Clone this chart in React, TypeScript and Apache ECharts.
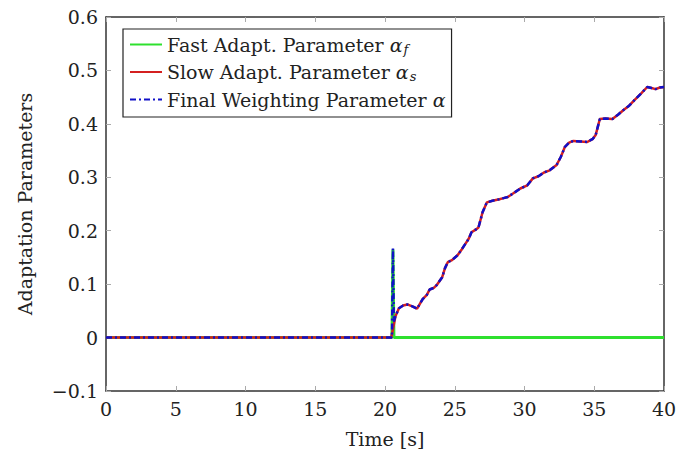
import React, { useEffect, useRef } from "react";
import * as echarts from "echarts";

// ---- data ----
const fastTimes = [0, 20.5, 20.57, 20.64, 40];
const fastValues = [0, 0, 0.165, 0, 0];

const slowTimes = [
  0, 20.45, 20.6, 20.75, 21.0, 21.3, 21.6, 22.0, 22.3, 22.7, 23.0, 23.2, 23.5, 23.7, 24.1, 24.3, 24.5,
  24.8, 25.2, 25.5, 25.7, 26.0, 26.2, 26.5, 26.7, 27.0, 27.3, 27.7, 28.2, 28.5, 28.8, 29.2, 29.7, 30.2,
  30.6, 31.0, 31.4, 31.8, 32.3, 32.6, 32.9, 33.2, 33.5, 34.0, 34.5, 34.9, 35.1, 35.4, 35.8, 36.3, 36.7,
  37.1, 37.5, 37.9, 38.4, 38.8, 39.1, 39.4, 39.7, 40,
];
const slowValues = [
  0, 0, 0.02, 0.04, 0.055, 0.06, 0.062, 0.058, 0.054, 0.072, 0.08, 0.09, 0.093, 0.098, 0.113, 0.13, 0.141,
  0.145, 0.154, 0.165, 0.173, 0.185, 0.197, 0.202, 0.206, 0.235, 0.253, 0.256, 0.259, 0.261, 0.263, 0.27,
  0.279, 0.285, 0.298, 0.302, 0.309, 0.313, 0.323, 0.338, 0.357, 0.365, 0.368, 0.367, 0.366, 0.372, 0.379,
  0.409, 0.41, 0.409, 0.417, 0.426, 0.434, 0.445, 0.458, 0.469, 0.467, 0.465, 0.468, 0.469,
];

// spike part of the final weighting parameter, then it follows the slow one
const finalSpikeTimes = [0, 20.5, 20.57, 20.63];
const finalSpikeValues = [0, 0, 0.167, 0.03];

const xTicks = { min: 0, max: 40, interval: 5 };
const yTicks = { min: -0.1, max: 0.6, interval: 0.1 };

const seriesNames = ["fast", "slow", "final"];
const legendLabels: Record<string, string> = {
  fast: "Fast Adapt. Parameter {i|α}{sub|f}",
  slow: "Slow Adapt. Parameter {i|α}{sub|s}",
  final: "Final Weighting Parameter {i|α}",
};

const FONT = "DejaVu Serif";

const zip = (a: number[], b: number[]) => a.map((t, i) => [t, b[i]]);

export default function App() {
  const ref = useRef<HTMLDivElement>(null);
  useEffect(() => {
    if (!ref.current) return;
    const chart = echarts.init(ref.current, undefined, { renderer: "svg" });
    const fmtY = (v: number) =>
      Math.abs(v) < 1e-9 ? "0" : (v < 0 ? "\u2212" : "") + Math.abs(v).toFixed(1);
    const finalData = zip(finalSpikeTimes, finalSpikeValues).concat(
      zip(slowTimes, slowValues).filter((p) => p[0] > 20.7)
    );
    const axisLine = { show: true, onZero: false, lineStyle: { color: "#333", width: 1.5 } };
    const axisTick = { show: true, inside: true, length: 5, lineStyle: { color: "#aaa" } };
    const label = { fontFamily: FONT, fontSize: 19, color: "#222" };
    chart.setOption({
      animation: false,
      backgroundColor: "#fff",
      textStyle: { fontFamily: FONT },
      grid: { left: 106, right: 27, top: 17, bottom: 62 },
      legend: {
        data: seriesNames,
        orient: "vertical",
        left: 123,
        top: 29,
        borderColor: "#222",
        borderWidth: 1.2,
        borderRadius: 0,
        backgroundColor: "#fff",
        padding: [6, 6, 8, 6],
        itemGap: 7,
        itemWidth: 32,
        itemHeight: 20,
        itemStyle: { opacity: 0 },
        formatter: (n: string) => legendLabels[n],
        textStyle: {
          fontFamily: FONT,
          fontSize: 19,
          color: "#222",
          rich: {
            i: { fontFamily: FONT, fontSize: 19, fontStyle: "italic", color: "#222" },
            sub: {
              fontFamily: FONT,
              fontSize: 13,
              fontStyle: "italic",
              color: "#222",
              padding: [9, 0, 0, 1],
            },
          },
        },
      },
      xAxis: [
        {
          type: "value",
          ...xTicks,
          axisLine,
          axisTick,
          axisLabel: { ...label, margin: 8 },
          splitLine: { show: false },
          name: "Time [s]",
          nameLocation: "middle",
          nameGap: 38,
          nameTextStyle: { ...label },
        },
        {
          type: "value",
          position: "top",
          ...xTicks,
          axisLine,
          axisTick,
          axisLabel: { show: false },
          splitLine: { show: false },
        },
      ],
      yAxis: [
        {
          type: "value",
          ...yTicks,
          axisLine,
          axisTick,
          axisLabel: { ...label, margin: 8, formatter: fmtY },
          splitLine: { show: false },
          name: "Adaptation Parameters",
          nameLocation: "middle",
          nameGap: 72,
          nameRotate: 90,
          nameTextStyle: { ...label },
        },
        {
          type: "value",
          position: "right",
          ...yTicks,
          axisLine,
          axisTick,
          axisLabel: { show: false },
          splitLine: { show: false },
        },
      ],
      series: [
        {
          name: "fast",
          type: "line",
          symbol: "none",
          data: zip(fastTimes, fastValues),
          lineStyle: { color: "#2ee02e", width: 3 },
          itemStyle: { color: "#2ee02e" },
        },
        {
          name: "slow",
          type: "line",
          symbol: "none",
          data: zip(slowTimes, slowValues),
          lineStyle: { color: "#d42020", width: 2.5 },
          itemStyle: { color: "#d42020" },
        },
        {
          name: "final",
          type: "line",
          symbol: "none",
          data: finalData,
          lineStyle: { color: "#1010c8", width: 2.5, type: [6, 3, 2, 3] },
          itemStyle: { color: "#1010c8" },
        },
      ],
    });
    return () => chart.dispose();
  }, []);
  return (
    <div
      ref={ref}
      style={{ position: "fixed", left: 0, top: 0, width: 691, height: 453, background: "#fff" }}
    />
  );
}
